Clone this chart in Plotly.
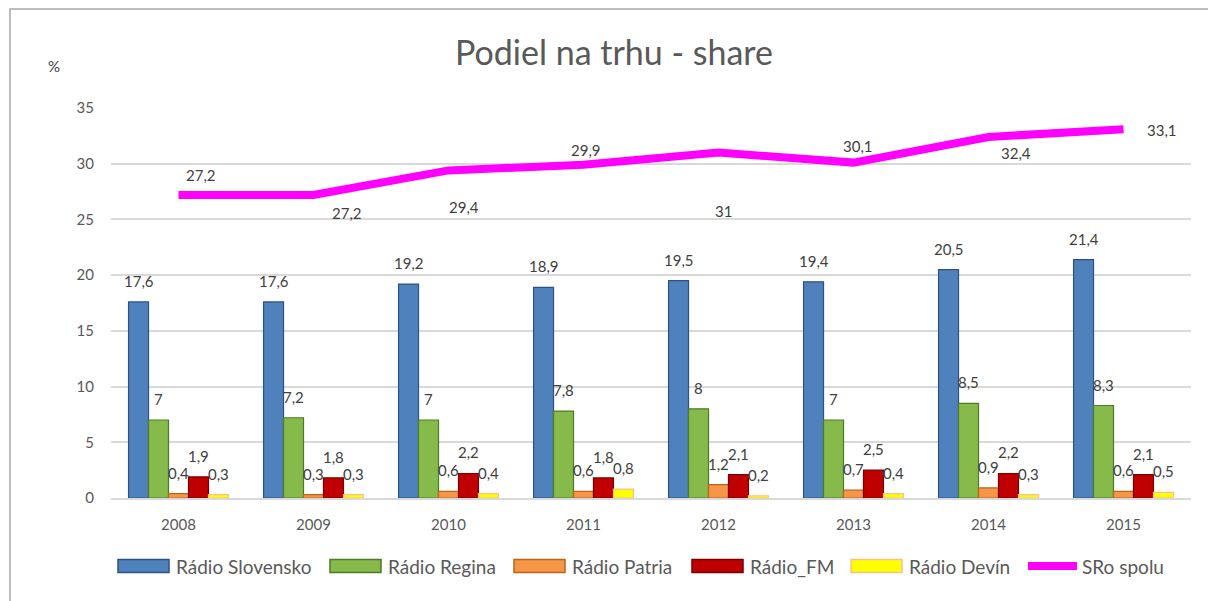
import plotly.graph_objects as go

years = ["2008", "2009", "2010", "2011", "2012", "2013", "2014", "2015"]
slovensko = [17.6, 17.6, 19.2, 18.9, 19.5, 19.4, 20.5, 21.4]
regina = [7, 7.2, 7, 7.8, 8, 7, 8.5, 8.3]
patria = [0.4, 0.3, 0.6, 0.6, 1.2, 0.7, 0.9, 0.6]
radio_fm = [1.9, 1.8, 2.2, 1.8, 2.1, 2.5, 2.2, 2.1]
devin = [0.3, 0.3, 0.4, 0.8, 0.2, 0.4, 0.3, 0.5]
sro_spolu = [27.2, 27.2, 29.4, 29.9, 31, 30.1, 32.4, 33.1]

bar_names = ["Rádio Slovensko", "Rádio Regina", "Rádio Patria", "Rádio_FM", "Rádio Devín"]
line_name = "SRo spolu"
bar_series = [slovensko, regina, patria, radio_fm, devin]
bar_fill = ["#4F81BD", "#86BA4A", "#F79646", "#C00000", "#FFFF00"]
bar_line = ["#2C5282", "#4F7A28", "#B8651F", "#7A0000", "#FAC090"]
LINE_COLOR = "#FF00FF"

# label offsets (px) for the total line labels: (xshift, yshift)
line_label_shift = [(22, 20), (33, -18), (15, -37), (2, 15), (5, -58), (4, 17), (27, -16), (38, -1)]
# legend layout (pixel left edge of each symbol)
legend_sym_x = [118, 330, 514, 692, 851, 1024]
LEG_Y = 566

FONT = "Lato"
TXT = "#404040"
AX = "#595959"

L, R, T, B = 111, 17, 108, 103
W = 1208 - L - R
H = 601 - T - B


def px_x(px):
    return (px - L) / W


def px_y(py):
    return (601 - B - py) / H


def fmt(v):
    return ("%g" % v).replace(".", ",")


fig = go.Figure()
for name, vals, fc, lc in zip(bar_names, bar_series, bar_fill, bar_line):
    fig.add_trace(go.Bar(
        x=years, y=vals, name=name,
        marker=dict(color=fc, line=dict(color=lc, width=1.2)),
    ))

fig.add_trace(go.Scatter(
    x=years, y=sro_spolu, name=line_name, mode="lines",
    line=dict(color=LINE_COLOR, width=8),
))

annotations = []
shapes = []
bar_w = W / len(years) * (1 - 0.26) / len(bar_series)
for i, vals in enumerate(bar_series):
    for j, v in enumerate(vals):
        annotations.append(dict(
            x=j, y=v, xref="x", yref="y", text=fmt(v), showarrow=False,
            xshift=(i - 2) * bar_w, yshift=21, yanchor="middle",
            font=dict(family=FONT, size=15, color=TXT),
        ))
for j, (v, (dx, dy)) in enumerate(zip(sro_spolu, line_label_shift)):
    annotations.append(dict(
        x=j, y=v, xref="x", yref="y", text=fmt(v), showarrow=False,
        xshift=dx, yshift=dy, yanchor="middle",
        font=dict(family=FONT, size=15, color=TXT),
    ))
annotations.append(dict(
    x=px_x(54), y=px_y(66), xref="paper", yref="paper", xanchor="center", yanchor="middle",
    text="%", showarrow=False, font=dict(family=FONT, size=15, color=TXT),
))

# custom legend with wide bar-like symbols
for k, name in enumerate(bar_names + [line_name]):
    sx = legend_sym_x[k]
    if k < len(bar_names):
        shapes.append(dict(type="rect", xref="paper", yref="paper",
                           x0=px_x(sx), x1=px_x(sx + 51), y0=px_y(LEG_Y + 6.5), y1=px_y(LEG_Y - 6.5),
                           fillcolor=bar_fill[k], line=dict(color=bar_line[k], width=1.5)))
    else:
        shapes.append(dict(type="line", xref="paper", yref="paper",
                           x0=px_x(sx + 4), x1=px_x(sx + 53), y0=px_y(LEG_Y), y1=px_y(LEG_Y),
                           line=dict(color=LINE_COLOR, width=8)))
    annotations.append(dict(
        x=px_x(sx + 56), y=px_y(LEG_Y), xref="paper", yref="paper",
        xanchor="left", yanchor="middle", text=name, showarrow=False,
        font=dict(family=FONT, size=19, color=AX),
    ))

shapes.append(dict(type="rect", xref="paper", yref="paper",
                   x0=px_x(10), x1=px_x(1230), y0=px_y(620), y1=px_y(9),
                   line=dict(color="#A6A6A6", width=1.5), layer="below"))

fig.update_layout(
    width=1208, height=601,
    margin=dict(l=L, r=R, t=T, b=B, autoexpand=False),
    paper_bgcolor="white", plot_bgcolor="white",
    showlegend=False,
    barmode="group", bargap=0.26, bargroupgap=0,
    title=dict(text="Podiel na trhu - share", x=614 / 1208, xanchor="center",
               y=1 - 53 / 601, yanchor="middle",
               font=dict(family=FONT, size=34, color=AX)),
    xaxis=dict(type="category", categoryorder="array", categoryarray=years,
               range=[-0.5, len(years) - 0.5], autorange=False,
               showgrid=False, showline=True, linecolor="#D9D9D9", linewidth=2,
               ticks="", ticklabelstandoff=12,
               tickfont=dict(family=FONT, size=15, color=AX)),
    yaxis=dict(range=[0, 35], autorange=False, dtick=5, showgrid=True, gridcolor="#D9D9D9", gridwidth=1.5,
               zeroline=False, showline=False, ticks="", ticklabelstandoff=16,
               tickfont=dict(family=FONT, size=15, color=AX)),
    annotations=annotations,
    shapes=shapes,
)

fig.write_html("out.html", config={"displayModeBar": False},
               post_script="document.body.style.margin='0px';")
